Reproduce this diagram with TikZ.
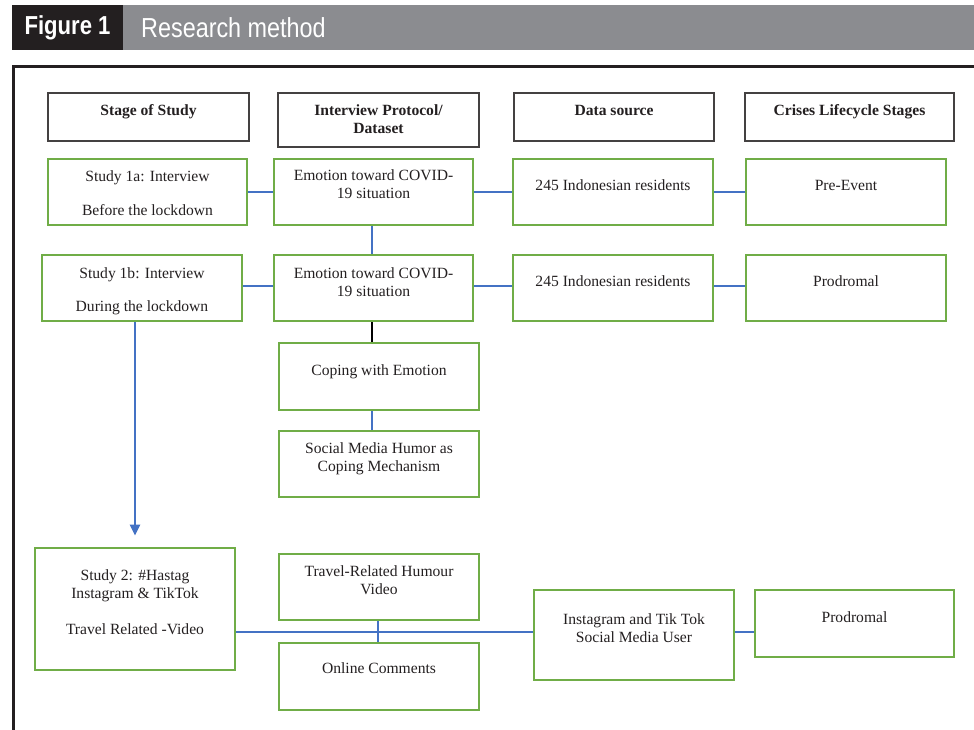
\documentclass[tikz,border=0pt]{standalone}
\usepackage{fontspec}
\setmainfont{Liberation Serif}
\newfontfamily\hdfont[FakeStretch=0.85]{Liberation Sans}
\usetikzlibrary{calc,arrows.meta}
\definecolor{boxgreen}{HTML}{70AD47}
\definecolor{lineblue}{HTML}{4472C4}
\definecolor{bandgray}{HTML}{8B8C90}
\definecolor{inkblack}{HTML}{231F20}
\tikzset{
  gbox/.style={draw=boxgreen, line width=2.8pt, inner sep=0pt},
  hbox/.style={draw=inkblack!85, line width=1.4pt, inner sep=0pt},
  txt/.style={align=center, inner sep=0pt, anchor=base, text=inkblack,
    font=\fontsize{15.6}{18}\selectfont},
  htxt/.style={txt, font=\fontsize{15.6}{18}\selectfont\bfseries},
  link/.style={draw=lineblue, line width=2.6pt},
  blink/.style={draw=black, line width=2.6pt},
}
\begin{document}
\begin{tikzpicture}[x=1pt,y=-1pt]
\useasboundingbox (0,0) rectangle (974,730);
% header band
\fill[bandgray] (12,5) rectangle (974,50);
\fill[inkblack] (12,5) rectangle (123,50);
\node[inner sep=0pt, text=white, font=\hdfont\fontsize{26}{28}\selectfont\bfseries] (figlab) at (67.5,28) {Figure 1};
\node[inner sep=0pt, text=white, anchor=west, font=\hdfont\fontsize{27.5}{28}\selectfont] (figtitle) at (141,28) {Research method};
% frame
\draw[inkblack, line width=3pt] (13,740) -- (13,67) -- (980,67);

% column headers
\node[hbox, minimum width=201pt, minimum height=48pt] (hs) at (148.5,117) {};
\node[hbox, minimum width=201pt, minimum height=54pt] (hi) at (378.5,120) {};
\node[hbox, minimum width=200pt, minimum height=48pt] (hd) at (614,117) {};
\node[hbox, minimum width=209pt, minimum height=48pt] (hc) at (849.5,117) {};
\node[htxt] (hst) at (148.5,116) {Stage of Study};
\node[htxt] (hit) at (378.5,134) {Interview Protocol/\\Dataset};
\node[htxt] (hdt) at (614,116) {Data source};
\node[htxt] (hct) at (849.5,116) {Crises Lifecycle Stages};

% row 1
\node[gbox, minimum width=199pt, minimum height=66pt] (s1a) at (147.5,192) {};
\node[gbox, minimum width=199pt, minimum height=66pt] (e1) at (373.5,192) {};
\node[gbox, minimum width=200pt, minimum height=66pt] (r1) at (613,192) {};
\node[gbox, minimum width=200pt, minimum height=66pt] (pe) at (846,192) {};
\node[txt] (s1at) at (147.5,215) {Study 1a: Interview\\[16pt]Before the lockdown};
\node[txt] (e1t) at (373.5,199) {Emotion toward COVID-\\19 situation};
\node[txt] (r1t) at (613,190) {245 Indonesian residents};
\node[txt] (pet) at (846,190) {Pre-Event};

% row 2
\node[gbox, minimum width=200pt, minimum height=66pt] (s1b) at (142,288) {};
\node[gbox, minimum width=199pt, minimum height=66pt] (e2) at (373.5,288) {};
\node[gbox, minimum width=200pt, minimum height=66pt] (r2) at (613,288) {};
\node[gbox, minimum width=200pt, minimum height=66pt] (pr1) at (846,288) {};
\node[txt] (s1bt) at (142,311) {Study 1b: Interview\\[15pt]During the lockdown};
\node[txt] (e2t) at (373.5,296) {Emotion toward COVID-\\19 situation};
\node[txt] (r2t) at (613,286) {245 Indonesian residents};
\node[txt] (pr1t) at (846,286) {Prodromal};

% coping column
\node[gbox, minimum width=200pt, minimum height=67pt] (cope) at (379,376.5) {};
\node[gbox, minimum width=200pt, minimum height=66pt] (smh) at (379,464) {};
\node[txt] (copet) at (379,375) {Coping with Emotion};
\node[txt] (smht) at (379,471) {Social Media Humor as\\Coping Mechanism};

% study 2 row
\node[gbox, minimum width=200pt, minimum height=122pt] (s2) at (135,609) {};
\node[gbox, minimum width=200pt, minimum height=66pt] (trv) at (379,587) {};
\node[gbox, minimum width=200pt, minimum height=67pt] (oc) at (379,676.5) {};
\node[gbox, minimum width=200pt, minimum height=90pt] (ig) at (634,635) {};
\node[gbox, minimum width=199pt, minimum height=67pt] (pr2) at (854.5,623.5) {};
\node[txt] (s2t) at (135,634) {Study 2: \#Hastag\\Instagram \& TikTok\\[18pt]Travel Related -Video};
\node[txt] (trvt) at (379,594) {Travel-Related Humour\\Video};
\node[txt] (oct) at (379,673) {Online Comments};
\node[txt] (igt) at (634,642) {Instagram and Tik Tok\\Social Media User};
\node[txt] (pr2t) at (854.5,622) {Prodromal};

% connectors
\coordinate (row1) at (0,192);
\coordinate (row2) at (0,286);
\coordinate (row3) at (0,632);
\draw[link] (s1a.east |- row1) -- (e1.west |- row1);
\draw[link] (e1.east |- row1) -- (r1.west |- row1);
\draw[link] (r1.east |- row1) -- (pe.west |- row1);
\draw[link] (s1b.east |- row2) -- (e2.west |- row2);
\draw[link] (e2.east |- row2) -- (r2.west |- row2);
\draw[link] (r2.east |- row2) -- (pr1.west |- row2);
\draw[link] ([xshift=-1.5pt]e1.south) -- ([xshift=-1.5pt]e2.north);
\draw[blink] ([xshift=-1.5pt]e2.south) -- ([xshift=-1.5pt]e2.south |- cope.north);
\draw[link] ([xshift=-1.5pt]e2.south |- cope.south) -- ([xshift=-1.5pt]e2.south |- smh.north);
\draw[link, -{Triangle[length=11pt,width=10pt]}] (s2.north |- s1b.south) -- ([yshift=11pt]s2.north);
\draw[link] (s2.east |- row3) -- (ig.west |- row3);
\draw[link] ([xshift=-1pt]trv.south) -- ([xshift=-1pt]oc.north);
\draw[link] (ig.east |- row3) -- (pr2.west |- row3);
\end{tikzpicture}
\end{document}
